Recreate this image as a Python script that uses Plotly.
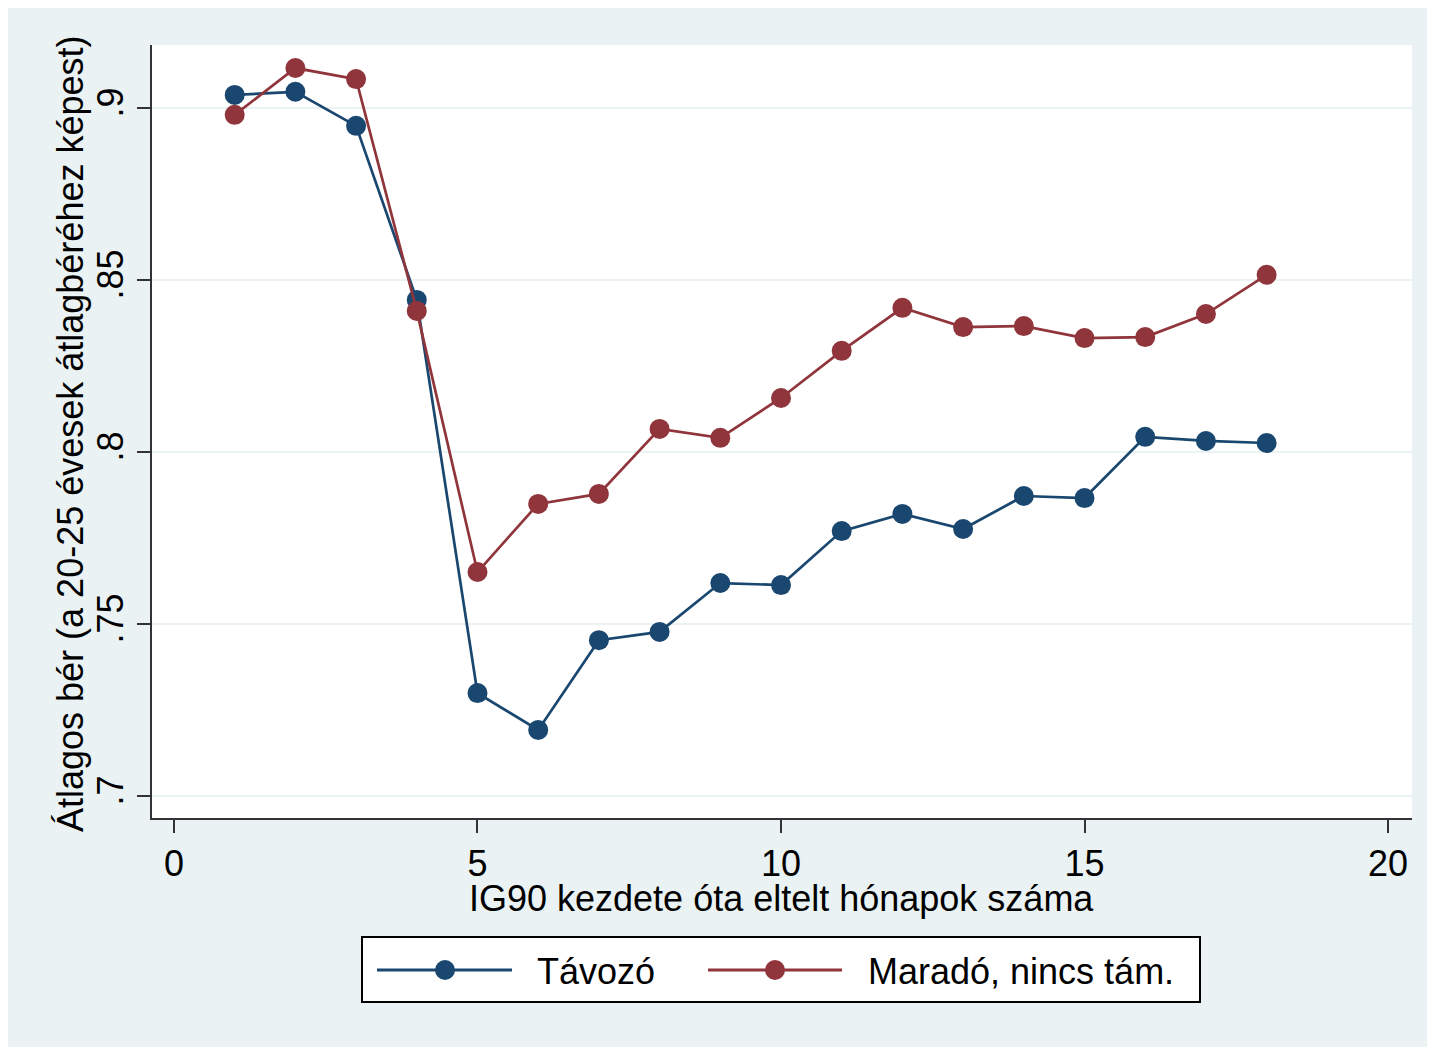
import plotly.graph_objects as go

months = list(range(1, 19))
tavozo = [0.9038, 0.9047, 0.8948, 0.8442, 0.7299, 0.7192, 0.7453, 0.7477, 0.7619,
          0.7613, 0.7770, 0.7820, 0.7776, 0.7872, 0.7866, 0.8044, 0.8032, 0.8026]
marado = [0.8980, 0.9116, 0.9084, 0.8410, 0.7651, 0.7849, 0.7878, 0.8067, 0.8041,
          0.8157, 0.8294, 0.8419, 0.8363, 0.8366, 0.8331, 0.8334, 0.8401, 0.8515]
names = ["Távozó", "Maradó, nincs tám."]
colors = ["#1A476F", "#90353B"]
x_ticks = [0, 5, 10, 15, 20]
y_ticks = [0.7, 0.75, 0.8, 0.85, 0.9]
y_tick_labels = [".7", ".75", ".8", ".85", ".9"]
x_title = "IG90 kezdete óta eltelt hónapok száma"
y_title = "Átlagos bér (a 20-25 évesek átlagbéréhez képest)"

OX, OY = 8, 8          # page body margin
W, H = 1427, 1039
L, R, T, B = 144, 23, 37, 229
BG = "#EAF2F3"
FONT = "Liberation Sans, Arial, sans-serif"
FS = 36

pw = W - L - R
ph = H - T - B


def px(x):
    return (x - OX - L) / pw


def py(y):
    return 1 - (y - OY - T) / ph


fig = go.Figure()
for ys, nm, c in zip([tavozo, marado], names, colors):
    fig.add_trace(go.Scatter(
        x=months, y=ys, name=nm, mode="lines+markers",
        line=dict(color=c, width=2.7),
        marker=dict(color=c, size=20),
        showlegend=False,
    ))

# custom legend (screen-pixel layout)
shapes = [dict(type="rect", xref="paper", yref="paper",
               x0=px(362), x1=px(1200), y0=py(1002), y1=py(937),
               fillcolor="white", line=dict(color="black", width=2))]
annotations = []
legend_items = [(377, 512, 445, 535), (708, 842, 775, 866)]
ly = 970
for (lx0, lx1, mx, tx), nm, c in zip(legend_items, names, colors):
    shapes.append(dict(type="line", xref="paper", yref="paper",
                       x0=px(lx0), x1=px(lx1), y0=py(ly), y1=py(ly),
                       line=dict(color=c, width=3)))
    shapes.append(dict(type="circle", xref="paper", yref="paper",
                       x0=px(mx - 10), x1=px(mx + 10), y0=py(ly + 10), y1=py(ly - 10),
                       fillcolor=c, line=dict(color=c, width=0)))
    annotations.append(dict(xref="paper", yref="paper", x=px(tx), y=py(ly + 1),
                            xanchor="left", yanchor="middle", text=nm, showarrow=False,
                            font=dict(size=FS, family=FONT, color="black")))

# axis titles
annotations.append(dict(xref="paper", yref="paper", x=px(781), y=py(898),
                        xanchor="center", yanchor="middle", text=x_title, showarrow=False,
                        font=dict(size=FS, family=FONT, color="black")))
annotations.append(dict(xref="paper", yref="paper", x=px(70), y=py(434),
                        xanchor="center", yanchor="middle", text=y_title, showarrow=False,
                        textangle=-90,
                        font=dict(size=FS, family=FONT, color="black")))

fig.update_layout(
    width=W, height=H,
    margin=dict(l=L, r=R, t=T, b=B, pad=0),
    paper_bgcolor=BG, plot_bgcolor="white",
    font=dict(family=FONT, size=FS, color="black"),
    showlegend=False,
    shapes=shapes, annotations=annotations,
)
fig.update_xaxes(
    range=[-0.362, 20.395], tickvals=x_ticks, ticks="outside", ticklen=13,
    tickwidth=2, tickcolor="#333333", showline=True, linecolor="#333333", linewidth=2,
    showgrid=False, zeroline=False, tickfont=dict(size=FS),
)
fig.update_yaxes(
    range=[0.6936, 0.9183], tickvals=y_ticks, ticktext=y_tick_labels, tickangle=-90,
    ticks="outside", ticklen=13, tickwidth=2, tickcolor="#333333",
    showline=True, linecolor="#333333", linewidth=2,
    showgrid=True, gridcolor=BG, gridwidth=2, zeroline=False, tickfont=dict(size=FS),
)
fig.write_html("out.html")
